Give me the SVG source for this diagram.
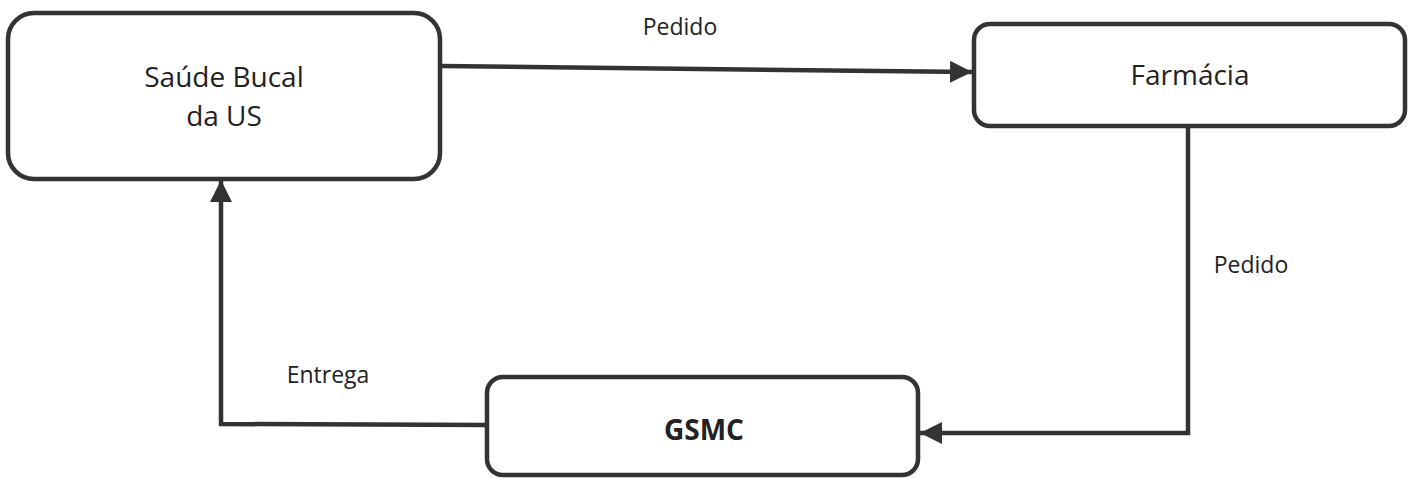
<svg xmlns="http://www.w3.org/2000/svg" width="1413" height="478" viewBox="0 0 1413 478">
<style>
.box{fill:#fff;stroke:#333;stroke-width:4.5}
.con{fill:none;stroke:#333;stroke-width:4.5}
.t{font-family:"Open Sans","Liberation Sans",sans-serif;fill:#222;text-anchor:middle}
.big{font-size:28px}
.lbl{font-size:23px}
</style>
<defs>
<marker id="a" viewBox="0 0 10 10" refX="10" refY="5" markerWidth="22" markerHeight="22" markerUnits="userSpaceOnUse" orient="auto">
<path d="M0,0 L10,5 L0,10 Z" fill="#333"/>
</marker>
</defs>
<rect width="1413" height="478" fill="#fff"/>
<g id="connectors">
<path class="con" d="M441,66 L972,72" marker-end="url(#a)"/>
<path class="con" d="M1188,126 L1188,433 L920,433" marker-end="url(#a)"/>
<path class="con" d="M486,425 L221,424 L221,180" marker-end="url(#a)"/>
<text class="t lbl" x="680" y="35">Pedido</text>
<text class="t lbl" x="1251" y="273">Pedido</text>
<text class="t lbl" x="328" y="383">Entrega</text>
</g>
<g id="node-saude">
<rect class="box" x="8" y="13" width="432" height="166" rx="26"/>
<text class="t big" x="224" y="87">Saúde Bucal</text>
<text class="t big" x="224" y="126">da US</text>
</g>
<g id="node-farmacia">
<rect class="box" x="974" y="24" width="431" height="102" rx="16"/>
<text class="t big" x="1190" y="85">Farmácia</text>
</g>
<g id="node-gsmc">
<rect class="box" x="487" y="377" width="431" height="98" rx="16"/>
<text class="t" x="704" y="440" font-size="28" font-weight="bold">GSMC</text>
</g>
</svg>
